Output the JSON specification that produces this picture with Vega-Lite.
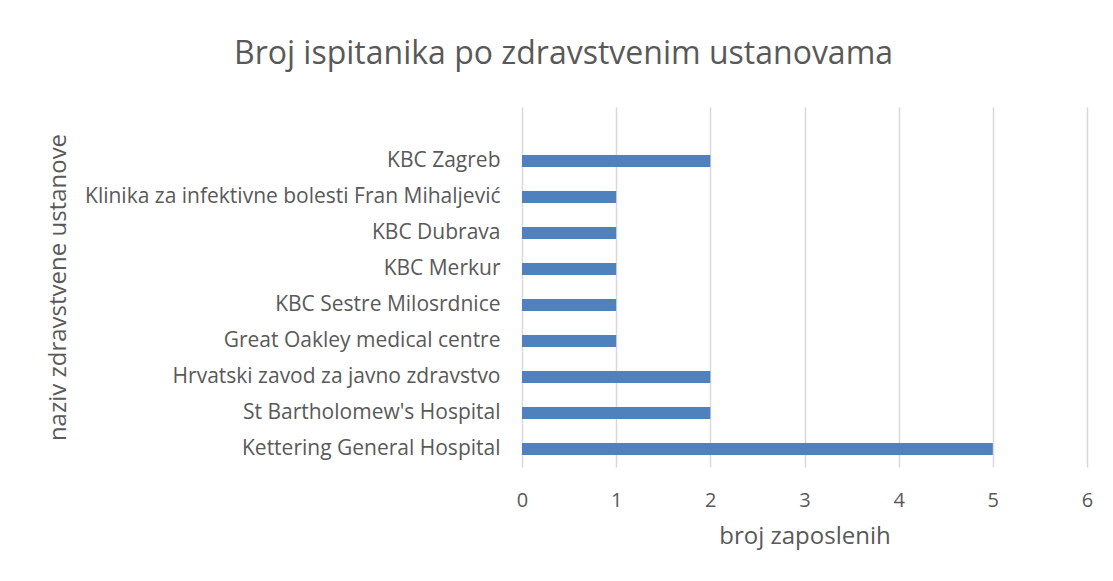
{
  "$schema": "https://vega.github.io/schema/vega-lite/v6.json",
  "autosize": "none",
  "width": 565,
  "height": 360,
  "padding": {"left": 522, "top": 107, "right": 26, "bottom": 114},
  "background": "white",
  "title": {
    "text": "Broj ispitanika po zdravstvenim ustanovama",
    "anchor": "middle",
    "frame": "group",
    "dx": -241,
    "offset": 11,
    "baseline": "alphabetic",
    "font": "Open Sans",
    "fontSize": 32,
    "fontWeight": "normal",
    "color": "#595959"
  },
  "data": {
    "values": [
      {"ustanova": "KBC Zagreb", "broj": 2},
      {"ustanova": "Klinika za infektivne bolesti Fran Mihaljević", "broj": 1},
      {"ustanova": "KBC Dubrava", "broj": 1},
      {"ustanova": "KBC Merkur", "broj": 1},
      {"ustanova": "KBC Sestre Milosrdnice", "broj": 1},
      {"ustanova": "Great Oakley medical centre", "broj": 1},
      {"ustanova": "Hrvatski zavod za javno zdravstvo", "broj": 2},
      {"ustanova": "St Bartholomew's Hospital", "broj": 2},
      {"ustanova": "Kettering General Hospital", "broj": 5}
    ]
  },
  "mark": {"type": "bar", "color": "#4f81bd"},
  "encoding": {
    "y": {
      "field": "ustanova",
      "type": "nominal",
      "sort": null,
      "scale": {
        "domain": [" ", "KBC Zagreb", "Klinika za infektivne bolesti Fran Mihaljević", "KBC Dubrava", "KBC Merkur", "KBC Sestre Milosrdnice", "Great Oakley medical centre", "Hrvatski zavod za javno zdravstvo", "St Bartholomew's Hospital", "Kettering General Hospital"],
        "paddingInner": 0.667,
        "paddingOuter": 0.333
      },
      "axis": {
        "title": "naziv zdravstvene ustanove",
        "titleAngle": -90,
        "titleX": -464,
        "titleY": 180,
        "titleAlign": "center",
        "titleBaseline": "middle",
        "titleFont": "Open Sans",
        "titleFontSize": 24,
        "titleFontWeight": "normal",
        "titleColor": "#595959",
        "labelFont": "Open Sans",
        "labelFontSize": 21,
        "labelColor": "#595959",
        "labelPadding": 22,
        "labelLimit": 500,
        "ticks": false,
        "domain": false,
        "grid": false
      }
    },
    "x": {
      "field": "broj",
      "type": "quantitative",
      "scale": {"domain": [0, 6], "nice": false},
      "axis": {
        "title": "broj zaposlenih",
        "values": [0, 1, 2, 3, 4, 5, 6],
        "titleFont": "Open Sans",
        "titleFontSize": 24,
        "titleFontWeight": "normal",
        "titleColor": "#595959",
        "titlePadding": 14,
        "labelFont": "Open Sans",
        "labelFontSize": 20,
        "labelColor": "#595959",
        "labelPadding": 23,
        "labelFlush": false,
        "ticks": false,
        "domain": false,
        "grid": true,
        "gridColor": "#d9d9d9",
        "gridWidth": 1.5
      }
    }
  },
  "config": {"view": {"stroke": null}}
}
